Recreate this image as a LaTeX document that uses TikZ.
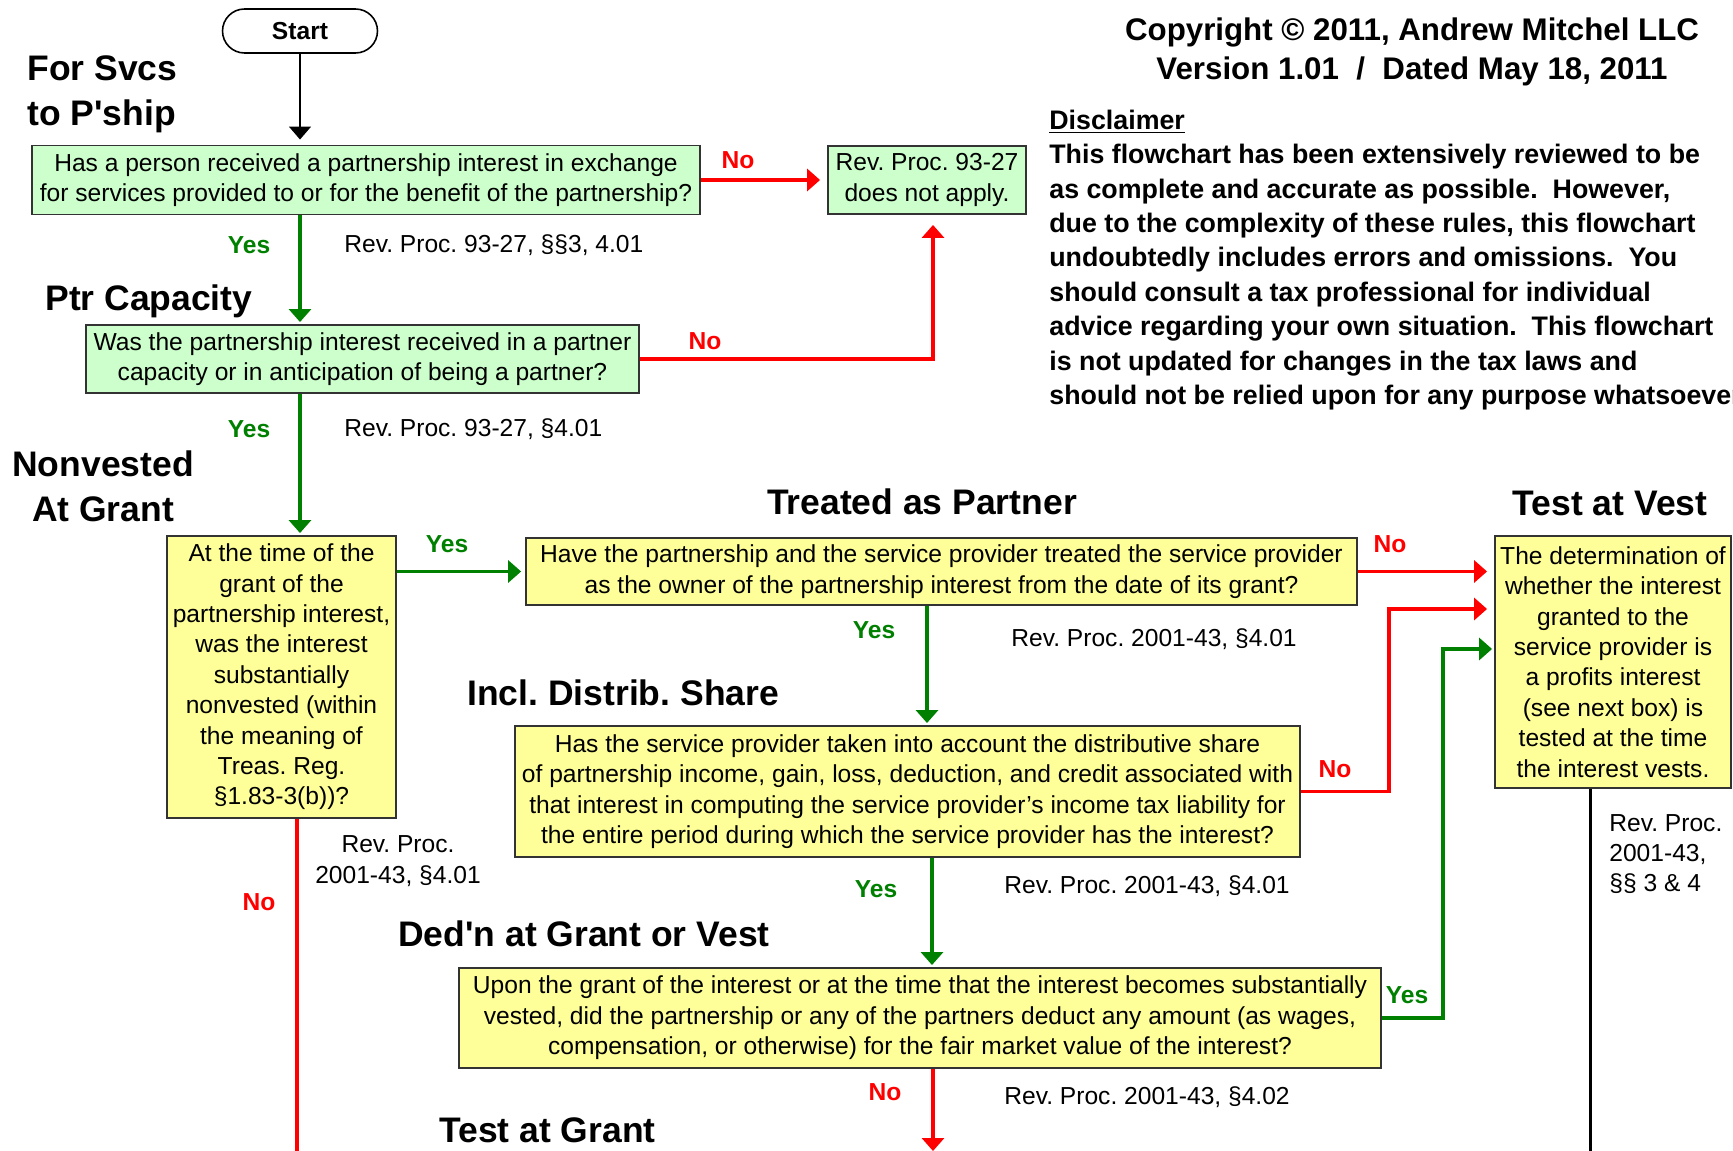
\documentclass[tikz,border=0pt]{standalone}
\usepackage{fontspec}
\setmainfont{Liberation Sans}[Ligatures=TeXOff]
\usetikzlibrary{arrows.meta,positioning,calc}
\definecolor{boxgreen}{RGB}{204,255,204}
\definecolor{boxyellow}{RGB}{255,255,153}
\definecolor{yesgreen}{RGB}{0,128,0}
\definecolor{nored}{RGB}{255,0,0}
\newcommand{\boxfont}{\fontsize{14}{17.3}\selectfont}
\newcommand{\headfont}{\fontsize{20.2}{25.5}\selectfont\bfseries}
\frenchspacing

\tikzset{
	qbox/.style={draw=black!80, line width=1.1pt, inner sep=0pt, align=center, font=\boxfont},
	gbox/.style={qbox, fill=boxgreen},
	ybox/.style={qbox, fill=boxyellow},
	yesline/.style={draw=yesgreen, line width=2pt, -{Triangle[width=0.44cm,length=0.26cm]}, shorten >=0.04cm},
	noline/.style={draw=nored, line width=2pt, -{Triangle[width=0.44cm,length=0.26cm]}, shorten >=0.14cm},
	yeslbl/.style={text=yesgreen, font=\boxfont\bfseries},
	nolbl/.style={text=nored, font=\boxfont\bfseries},
	cite/.style={font=\boxfont, anchor=west, inner sep=0pt},
	heading/.style={font=\headfont, inner sep=0pt},
}

\begin{document}
\begin{tikzpicture}[x=0.02cm,y=-0.02cm]
	\useasboundingbox (0,0) rectangle (1733,1151);
	% question boxes
	\node[draw, rounded corners=0.44cm, minimum width=3.1cm, minimum height=0.88cm, line width=0.9pt, font=\boxfont\bfseries] (start) at (300,31) {Start};
	\node[gbox, minimum width=13.36cm, minimum height=1.38cm] (q1) at (366,180) {Has a person received a partnership interest in exchange\\for services provided to or for the benefit of the partnership?};
	\node[gbox, minimum width=3.96cm, minimum height=1.36cm] (nope) at (927,180) {Rev. Proc. 93-27\\does not apply.};
	\node[gbox, minimum width=11.06cm, minimum height=1.36cm] (q2) at (362.5,359) {Was the partnership interest received in a partner\\capacity or in anticipation of being a partner?};
	\node[ybox, minimum width=4.58cm, minimum height=5.64cm] (q3) at (281.5,677) {At the time of the\\grant of the\\partnership interest,\\was the interest\\substantially\\nonvested (within\\the meaning of\\Treas. Reg.\\§1.83-3(b))?};
	\node[ybox, minimum width=16.62cm, minimum height=1.34cm] (q4) at (941.5,571.5) {Have the partnership and the service provider treated the service provider\\as the owner of the partnership interest from the date of its grant?};
	\node[ybox, minimum width=4.72cm, minimum height=5.04cm] (vest) at (1613,662) {The determination of\\whether the interest\\granted to the\\service provider is\\a profits interest\\(see next box) is\\tested at the time\\the interest vests.};
	\node[ybox, minimum width=15.7cm, minimum height=2.62cm] (q5) at (907.5,791.5) {Has the service provider taken into account the distributive share\\of partnership income, gain, loss, deduction, and credit associated with\\that interest in computing the service provider’s income tax liability for\\the entire period during which the service provider has the interest?};
	\node[ybox, minimum width=18.44cm, minimum height=2cm] (q6) at (920,1018) {Upon the grant of the interest or at the time that the interest becomes substantially\\vested, did the partnership or any of the partners deduct any amount (as wages,\\compensation, or otherwise) for the fair market value of the interest?};

	% headings
	\node[heading, align=left, anchor=west] (hsvcs) at (27,94) {For Svcs\\to P'ship};
	\node[heading, anchor=west] (hcap) at (45,301) {Ptr Capacity};
	\node[heading, align=center] (hnonv) at (103,486) {Nonvested\\At Grant};
	\node[heading] (htreat) at (922,502) {Treated as Partner};
	\node[heading, anchor=west] (hincl) at (467,693) {Incl. Distrib. Share};
	\node[heading, anchor=west] (hded) at (398,934) {Ded'n at Grant or Vest};
	\node[heading, anchor=west] (hgrant) at (439,1130) {Test at Grant};
	\node[heading] (hvest) at (1610,503) {Test at Vest};

	\node[font=\fontsize{17.8}{22.6}\selectfont\bfseries, align=center] (copy) at (1412,52) {Copyright © 2011, Andrew Mitchel LLC\\Version 1.01 \ / \ Dated May 18, 2011};
	\node[font=\fontsize{15.25}{19.6}\selectfont\bfseries, align=left, anchor=west, inner sep=0pt] (disc) at (1049,260) {\underline{Disclaimer}\\This flowchart has been extensively reviewed to be\\as complete and accurate as possible.\ \ However,\\due to the complexity of these rules, this flowchart\\undoubtedly includes errors and omissions.\ \ You\\should consult a tax professional for individual\\advice regarding your own situation.\ \ This flowchart\\is not updated for changes in the tax laws and\\should not be relied upon for any purpose whatsoever.};

	% citations
	\node[cite] (c1) at (344,245) {Rev. Proc. 93-27, §§3, 4.01};
	\node[cite] (c2) at (344,429) {Rev. Proc. 93-27, §4.01};
	\node[font=\boxfont, align=center] (c3) at (398,861) {Rev. Proc.\\2001-43, §4.01};
	\node[cite] (c4) at (1011,639) {Rev. Proc. 2001-43, §4.01};
	\node[cite] (c5) at (1004,886) {Rev. Proc. 2001-43, §4.01};
	\node[cite] (c6) at (1004,1097) {Rev. Proc. 2001-43, §4.02};
	\node[cite, align=left] (c7) at (1609,854) {Rev. Proc.\\2001-43,\\§§ 3 \& 4};

	% yes / no
	\node[yeslbl] (y1) at (249,245) {Yes};
	\node[yeslbl] (y2) at (249,429) {Yes};
	\node[yeslbl] (y3) at (447,544) {Yes};
	\node[yeslbl] (y4) at (874,630) {Yes};
	\node[yeslbl] (y5) at (876,889) {Yes};
	\node[yeslbl] (y6) at (1407,995) {Yes};
	\node[nolbl] (n1) at (738,160) {No};
	\node[nolbl] (n2) at (705,341) {No};
	\node[nolbl] (n3) at (1390,544) {No};
	\node[nolbl] (n4) at (1335,769) {No};
	\node[nolbl] (n5) at (259,902) {No};
	\node[nolbl] (n6) at (885,1092) {No};

	\coordinate (q3out) at (297,1165);
	\coordinate (q6out) at (933,1158);
	\coordinate (vestout) at (1590,1165);

	% connectors
	\draw[line width=0.85pt, -{Triangle[width=0.44cm,length=0.26cm]}, shorten >=0.1cm] (start) -- (start |- q1.north);
	\draw[noline] (q1) -- (nope);
	\draw[yesline] (q1.south -| start) -- (q2.north -| start);
	\draw[noline, shorten >=0.2cm] (q2.east) -| (nope.south -| 933,0);
	\draw[yesline] (q2.south -| start) -- (q3.north -| start);
	\draw[yesline, shorten >=0.08cm] (q3.east |- q4) -- (q4.west);
	\draw[draw=nored, line width=2pt] (q3.south -| q3out) -- (q3out);
	\draw[noline] (q4) -- (q4 -| vest.west);
	\draw[yesline] (q4.south -| 927,0) -- (q5.north -| 927,0);
	\draw[noline] (q5.east) -| (1389,609) -- (vest.west |- 0,609);
	\draw[yesline] (q5.south -| 932,0) -- (q6.north -| 932,0);
	\draw[yesline] (q6.east) -| (1443,649) -- (vest.west |- 0,649);
	\draw[noline] (q6.south -| q6out) -- (q6out);
	\draw[line width=1.7pt] (vest.south -| vestout) -- (vestout);
\end{tikzpicture}
\end{document}
